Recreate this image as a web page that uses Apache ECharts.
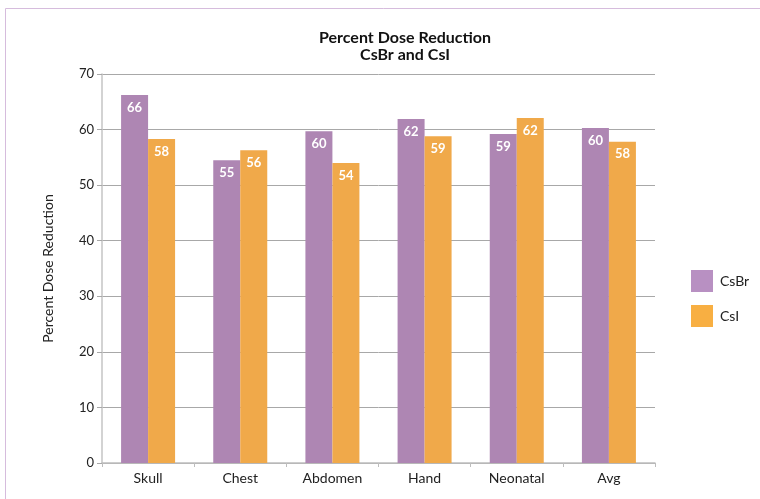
<!DOCTYPE html>
<html>
<head>
<meta charset="utf-8">
<script src="https://cdn.jsdelivr.net/npm/echarts@6/dist/echarts.min.js"></script>
<style>
  html, body { margin: 0; padding: 0; background: #fff; }
  #chart { width: 760px; height: 499px; }
</style>
</head>
<body>
<div id="chart"></div>
<script>
var categories = ['Skull', 'Chest', 'Abdomen', 'Hand', 'Neonatal', 'Avg'];
var csbr = [66.2, 54.5, 59.7, 61.9, 59.2, 60.3];
var csi = [58.3, 56.3, 54.0, 58.8, 62.1, 57.8];
var yTicks = [0, 10, 20, 30, 40, 50, 60, 70];

(function () {
    var myChart = echarts.init(document.getElementById('chart'));
    var font = 'Lato';
    var label = {
        show: true,
        position: 'insideTop',
        distance: 6,
        color: '#fff',
        fontWeight: 'bold',
        fontSize: 13,
        fontFamily: font,
        formatter: function (p) { return Math.round(p.value); }
    };
    var option = {
        animation: false,
        graphic: [{
            type: 'rect',
            shape: { x: 5.5, y: 8.5, width: 900, height: 700 },
            style: { fill: 'none', stroke: '#D6BCDD', lineWidth: 1 }
        }],
        title: {
            text: 'Percent Dose Reduction\nCsBr and CsI',
            left: 400,
            textAlign: 'center',
            top: 24,
            textStyle: {
                fontFamily: font,
                fontWeight: 'bold',
                fontSize: 16,
                lineHeight: 17,
                color: '#111'
            }
        },
        legend: {
            orient: 'vertical',
            left: 686,
            top: 265,
            icon: 'rect',
            itemWidth: 22,
            itemHeight: 22,
            itemGap: 13,
            data: [
                { name: 'CsBr', itemStyle: { color: '#B890C2' } },
                { name: 'CsI', itemStyle: { color: '#F8AF42' } }
            ],
            textStyle: { fontFamily: font, fontSize: 14, color: '#222', padding: [0, 0, 0, 2] }
        },
        grid: {
            left: 102,
            right: 105,
            top: 74,
            bottom: 36,
            containLabel: false
        },
        xAxis: {
            type: 'category',
            data: categories,
            axisLine: { lineStyle: { color: '#BDBDBD', width: 1.5 } },
            axisTick: { show: true, length: 4, lineStyle: { color: '#BDBDBD' } },
            axisLabel: { color: '#222', fontSize: 14, fontFamily: font, margin: 8 }
        },
        yAxis: {
            type: 'value',
            min: 0,
            max: 70,
            interval: 10,
            name: 'Percent Dose Reduction',
            nameLocation: 'middle',
            nameGap: 47,
            nameTextStyle: { color: '#222', fontSize: 14, fontFamily: font },
            axisLine: { show: true, lineStyle: { color: '#C4C4C4', width: 1.5 } },
            axisTick: { show: true, length: 5, lineStyle: { color: '#A8A8A8' } },
            axisLabel: {
                color: '#222', fontSize: 13, fontFamily: font, margin: 8,
                formatter: function (v) { return yTicks.indexOf(v) >= 0 ? v : ''; }
            },
            splitLine: { show: true, lineStyle: { color: '#A8A8A8', width: 1 } }
        },
        series: [
            {
                name: 'CsBr',
                type: 'bar',
                data: csbr,
                barWidth: 27,
                barGap: '0%',
                itemStyle: { color: '#AE86B3' },
                label: label
            },
            {
                name: 'CsI',
                type: 'bar',
                data: csi,
                barWidth: 27,
                barGap: '0%',
                itemStyle: { color: '#F0A94A' },
                label: label
            }
        ]
    };
    myChart.setOption(option);
})();
</script>
</body>
</html>
